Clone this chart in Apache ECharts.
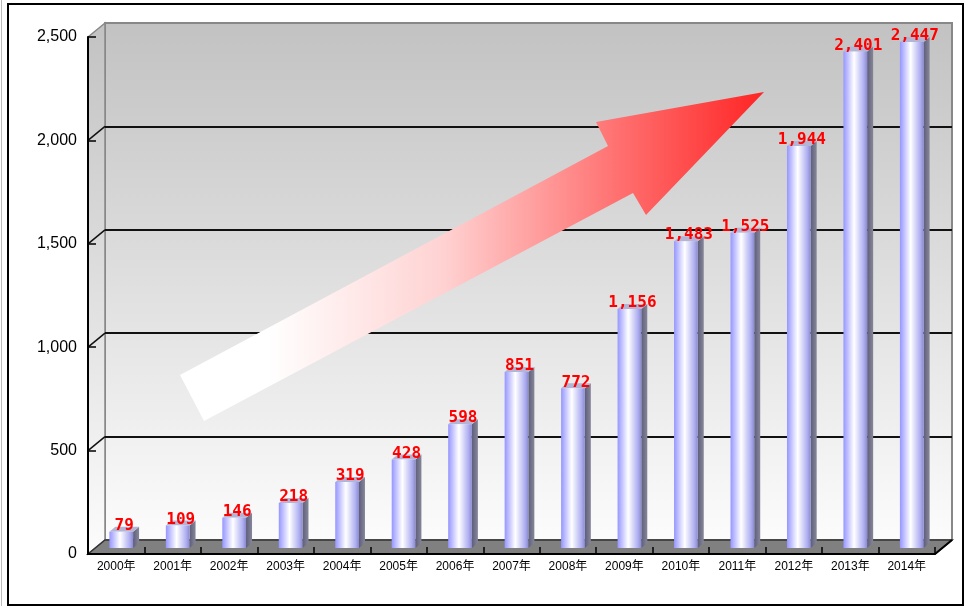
<!DOCTYPE html>
<html><head><meta charset="utf-8">
<script src="https://cdn.jsdelivr.net/npm/echarts@6/dist/echarts.min.js"></script>
<style>html,body{margin:0;padding:0;background:#fff}#c{width:967px;height:606px}</style>
</head><body><div id="c"></div>
<script>
const categories = ['2000年','2001年','2002年','2003年','2004年','2005年','2006年','2007年','2008年','2009年','2010年','2011年','2012年','2013年','2014年'];
const values = [79,109,146,218,319,428,598,851,772,1156,1483,1525,1944,2401,2447];
const yMin = 0, yMax = 2500, yStep = 500;

// layout (front plane and back plane of the 3D box)
const FRONT = {left: 88, top: 37, width: 847, height: 517};
const DEPTH = {dx: 17, dy: -14};
const BACK = {left: FRONT.left + DEPTH.dx, top: FRONT.top + DEPTH.dy, width: FRONT.width, height: FRONT.height};

const chart = echarts.init(document.getElementById('c'), null, {renderer: 'canvas'});
const fmt = v => Number(v).toLocaleString('en-US');
const wallGrad = () => new echarts.graphic.LinearGradient(0, 0, 0, 1, [
  {offset: 0, color: '#c2c2c2'}, {offset: 1, color: '#fcfcfc'}
]);

chart.setOption({
  animation: false,
  backgroundColor: '#ffffff',
  grid: [
    Object.assign({containLabel: false}, FRONT),
    Object.assign({containLabel: false}, BACK)
  ],
  xAxis: [
    {type: 'category', gridIndex: 0, data: categories, boundaryGap: true,
     axisLine: {show: true, lineStyle: {color: '#000', width: 2}},
     axisTick: {show: true, inside: true, length: 7, interval: 0, lineStyle: {color: '#000', width: 1.5}},
     axisLabel: {interval: 0, margin: 7, color: '#000', fontSize: 12,
       fontFamily: "'Liberation Sans','Noto Sans CJK JP',sans-serif"},
     splitLine: {show: false}, z: 3},
    {type: 'category', gridIndex: 1, data: categories, show: false}
  ],
  yAxis: [
    {type: 'value', gridIndex: 0, min: yMin, max: yMax, interval: yStep,
     axisLine: {show: true, lineStyle: {color: '#000', width: 2}},
     axisTick: {show: true, inside: true, length: 8, lineStyle: {color: '#000', width: 1.5}},
     axisLabel: {margin: 11, color: '#000', fontSize: 16, formatter: fmt,
       fontFamily: "'Liberation Sans',sans-serif"},
     splitLine: {show: false}, z: 3},
    {type: 'value', gridIndex: 1, min: yMin, max: yMax, interval: yStep,
     axisLine: {show: false}, axisTick: {show: false}, axisLabel: {show: false},
     splitLine: {show: true, lineStyle: {color: ['rgba(0,0,0,0)', '#111', '#111', '#111', '#111', 'rgba(0,0,0,0)'], width: 2}}}
  ],
  series: [{
    type: 'custom',
    xAxisIndex: 0, yAxisIndex: 0,
    data: values.map((v, i) => [i, v]),
    encode: {x: 0, y: 1},
    z: 5,
    renderItem(params, api) {
      const i = api.value(0), v = api.value(1);
      const top = api.coord([i, v]);
      const base = api.coord([i, 0]);
      const band = api.size([1, 0])[0];
      const w = band * 0.42;
      const ox = 5, oy = -6, dx = 6, dy = -5;
      const x0 = top[0] - w / 2 + ox, x1 = x0 + w;
      const yt = top[1] + oy, yb = base[1] + oy;
      return {
        type: 'group',
        children: [
          {type: 'polygon', shape: {points: [[x1, yt], [x1 + dx, yt + dy], [x1 + dx, yb + dy], [x1, yb]]},
           style: {fill: new echarts.graphic.LinearGradient(0, 0, 1, 0, [
             {offset: 0, color: '#5e5e7a'}, {offset: 1, color: '#86869a'}])}},
          {type: 'polygon', shape: {points: [[x0, yt], [x0 + dx, yt + dy], [x1 + dx, yt + dy], [x1, yt]]},
           style: {fill: '#b4b4d4'}},
          {type: 'rect', shape: {x: x0, y: yt, width: w, height: yb - yt},
           style: {fill: new echarts.graphic.LinearGradient(0, 0, 1, 0, [
             {offset: 0, color: '#9696ff'}, {offset: 0.45, color: '#ffffff'},
             {offset: 0.85, color: '#b0b0f2'}, {offset: 1, color: '#8a8ad0'}])}},
          {type: 'text', x: (x0 + x1 + dx) / 2, y: yt + 2, z2: 10,
           style: {text: fmt(v), fill: '#ff0000', fontSize: 16, fontWeight: 'bold',
             fontFamily: "'DejaVu Sans Mono',monospace", align: 'center', verticalAlign: 'bottom'}}
        ]
      };
    }
  }]
});

// walls, floor, side gridlines, arrow and frame
const fy = v => chart.convertToPixel({gridIndex: 0}, [0, v])[1];
const by = v => chart.convertToPixel({gridIndex: 1}, [0, v])[1];
const fL = FRONT.left, fR = FRONT.left + FRONT.width, bL = BACK.left, bR = BACK.left + BACK.width;
const els = [];
els.push({type: 'rect', z: -10, shape: {x: bL, y: by(yMax), width: BACK.width, height: by(yMin) - by(yMax)},
  style: {fill: wallGrad(), stroke: '#888', lineWidth: 2}});
els.push({type: 'polygon', z: -10, shape: {points: [[fL, fy(yMax)], [bL, by(yMax)], [bL, by(yMin)], [fL, fy(yMin)]]},
  style: {fill: wallGrad(), stroke: '#888', lineWidth: 1.5}});
els.push({type: 'polygon', z: -9, shape: {points: [[fL, fy(yMin)], [fR, fy(yMin)], [bR, by(yMin)], [bL, by(yMin)]]},
  style: {fill: '#808080', stroke: '#333', lineWidth: 1.5}});
els.push({type: 'line', z: -8, shape: {x1: fR, y1: fy(yMin), x2: bR, y2: by(yMin)}, style: {stroke: '#000', lineWidth: 2}});
for (let v = yMin + yStep; v < yMax; v += yStep) {
  els.push({type: 'line', z: -8, shape: {x1: fL, y1: fy(v), x2: bL, y2: by(v)}, style: {stroke: '#111', lineWidth: 1.5}});
}
// trend arrow (decoration)
els.push({type: 'polygon', z: 1, shape: {points: [[180, 375], [608, 146], [596, 122], [764, 92], [646, 215], [633, 193], [204, 421]]},
  style: {fill: new echarts.graphic.LinearGradient(0, 0, 1, 0, [
    {offset: 0, color: '#ffffff'}, {offset: 0.15, color: '#ffffff'},
    {offset: 0.45, color: '#ffd2d2'}, {offset: 0.75, color: '#ff7070'}, {offset: 1, color: '#ff2424'}])}});
// outer frame
els.push({type: 'rect', z: 20, shape: {x: 8, y: 4, width: 955, height: 601}, style: {fill: 'none', stroke: '#000', lineWidth: 2}});
els.push({type: 'line', z: 20, shape: {x1: 1.5, y1: 0, x2: 1.5, y2: 606}, style: {stroke: '#bbb', lineWidth: 1}});
chart.setOption({graphic: {elements: els}});
</script>
</body></html>
